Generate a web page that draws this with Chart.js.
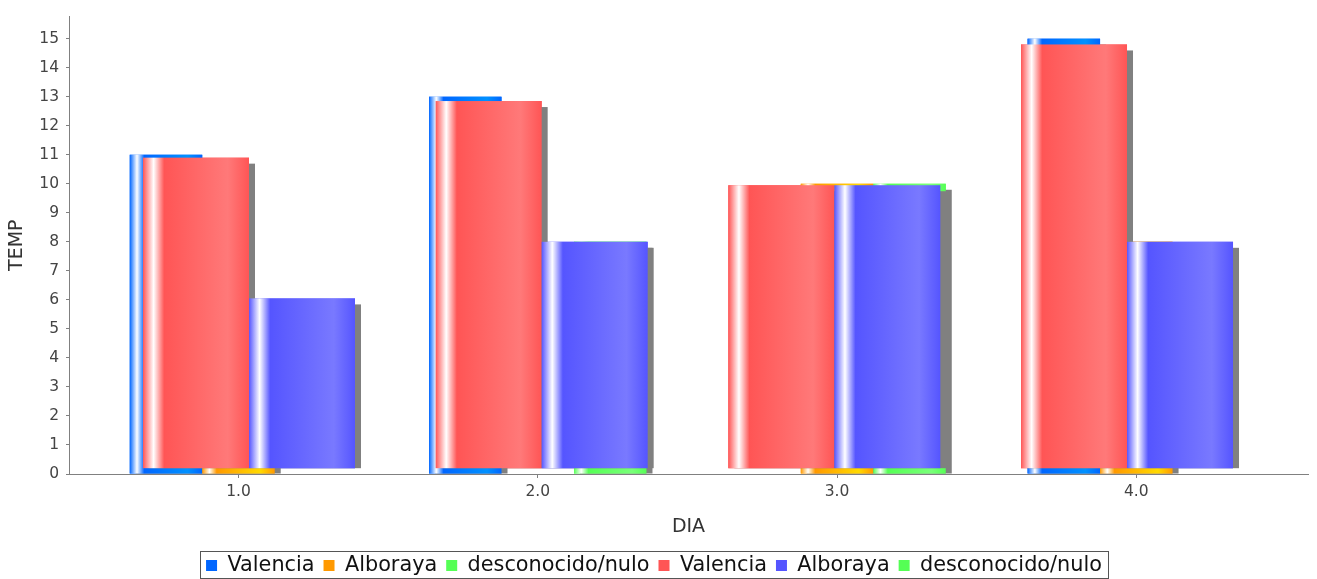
<!DOCTYPE html>
<html>
<head>
<meta charset="utf-8">
<script src="https://cdn.jsdelivr.net/npm/chart.js@4.4.1/dist/chart.umd.min.js"></script>
<style>
html, body { margin: 0; padding: 0; background: #fff; }
</style>
</head>
<body>
<canvas id="chart" width="1317" height="579"></canvas>
<script>
const dias = ['1.0', '2.0', '3.0', '4.0'];
const tempTicks = [0, 1, 2, 3, 4, 5, 6, 7, 8, 9, 10, 11, 12, 13, 14, 15];

// primer grupo de barras (detras)
const valencia1 = [11, 13, null, 15];
const alboraya1 = [6, null, 10, 8];
const desconocido1 = [null, 8, 10, null];

// segundo grupo de barras (delante, con sombra)
const valencia2 = [10.9, 12.85, 9.95, 14.8];
const alboraya2 = [6.05, 8, 9.95, 8];
const desconocido2 = [null, null, null, null];

Chart.defaults.font.family = 'DejaVu Sans';
Chart.defaults.color = '#444';

// Java Color.brighter()
function brighter(hex) {
    const n = parseInt(hex.slice(1), 16);
    const comp = [(n >> 16) & 255, (n >> 8) & 255, n & 255].map(c => {
        if (c > 0 && c < 3) c = 3;
        return Math.min(255, Math.floor(c / 0.7));
    });
    return 'rgb(' + comp.join(',') + ')';
}

function paintBar(ctx, left, top, right, bottom, color) {
    const g = ctx.createLinearGradient(left, 0, right, 0);
    const c1 = brighter(color);
    g.addColorStop(0, color);
    g.addColorStop(0.1, '#ffffff');
    g.addColorStop(0.2, color);
    g.addColorStop(0.8, c1);
    g.addColorStop(1, color);
    ctx.fillStyle = g;
    ctx.fillRect(left, top, right - left, bottom - top);
}

// redraw every bar: shadow first, then gradient, in dataset order
const barPaint = {
    id: 'barPaint',
    afterDatasetsDraw(chart) {
        const ctx = chart.ctx;
        const area = chart.chartArea;
        ctx.save();
        ctx.beginPath();
        ctx.rect(area.left, area.top, area.right - area.left, area.bottom - area.top);
        ctx.clip();
        chart.data.datasets.forEach((ds, i) => {
            const meta = chart.getDatasetMeta(i);
            if (meta.hidden) return;
            meta.data.forEach((bar, j) => {
                if (ds.data[j] == null) return;
                const p = bar.getProps(['x', 'y', 'base', 'width'], true);
                const left = p.x - p.width / 2;
                const right = p.x + p.width / 2;
                const top = Math.min(p.y, p.base);
                const bottom = Math.max(p.y, p.base);
                ctx.fillStyle = '#808080';
                ctx.fillRect(left + 6, top + 6, right - left, bottom - top - 6);
                paintBar(ctx, left, top, right, bottom, ds.backgroundColor);
            });
        });
        ctx.restore();
    }
};

// frame around the legend
const legendBox = {
    id: 'legendBox',
    afterDraw(chart) {
        const hb = chart.legend.legendHitBoxes;
        if (!hb || !hb.length) return;
        const ctx = chart.ctx;
        const first = hb[0], last = hb[hb.length - 1];
        const x0 = Math.round(first.left - 6);
        const x1 = Math.round(last.left + last.width + 6);
        const y0 = Math.round(first.top - 4);
        const y1 = Math.round(first.top + 23);
        ctx.save();
        ctx.strokeStyle = '#555';
        ctx.lineWidth = 1;
        ctx.strokeRect(x0 + 0.5, y0 + 0.5, x1 - x0, y1 - y0);
        ctx.restore();
    }
};

// category spacing like the original plot (margins on the ends)
function spread(start, range) {
    return s => {
        s._startValue = start;
        s._valueRange = range;
    };
}

// each series gets its own hidden category axis, shifted to its slot
const backStep = 0.2422, frontStep = 0.1811;
function hiddenAxis(start, range) {
    return { display: false, offset: true, afterBuildTicks: spread(start, range) };
}

function backSet(label, data, color, axis) {
    return {
        label, data,
        backgroundColor: color,
        borderWidth: 0,
        xAxisID: axis,
        grouped: false,
        categoryPercentage: 1,
        barPercentage: backStep
    };
}

function frontSet(label, data, color, axis) {
    return {
        label, data,
        backgroundColor: color,
        borderWidth: 0,
        xAxisID: axis,
        grouped: false,
        base: 0.2,
        categoryPercentage: 1,
        barPercentage: 2 * frontStep
    };
}

new Chart(document.getElementById('chart'), {
    type: 'bar',
    data: {
        labels: dias,
        datasets: [
            backSet('Valencia', valencia1, '#0066ff', 'b0'),
            backSet('Alboraya', alboraya1, '#ff9900', 'b1'),
            backSet('desconocido/nulo', desconocido1, '#55ff55', 'b2'),
            frontSet('Valencia', valencia2, '#ff5555', 'f0'),
            frontSet('Alboraya', alboraya2, '#5555ff', 'f1'),
            frontSet('desconocido/nulo', desconocido2, '#55ff55', 'f1')
        ]
    },
    options: {
        responsive: false,
        animation: false,
        layout: { padding: { left: 0, right: 9, top: 15, bottom: -7 } },
        plugins: {
            tooltip: { enabled: false },
            legend: {
                position: 'bottom',
                labels: {
                    boxWidth: 11,
                    boxHeight: 11,
                    padding: 9,
                    color: '#111',
                    font: { size: 20.8 }
                }
            }
        },
        scales: {
            x: {
                offset: true,
                afterBuildTicks: spread(-0.5663, 4.140),
                afterFit: s => { s.height = 72.2; },
                grid: { offset: false, drawOnChartArea: false, color: '#808080', tickLength: 4 },
                border: { color: '#808080' },
                ticks: { padding: 5, font: { size: 15.5 }, color: '#444', maxRotation: 0 },
                title: { display: true, text: 'DIA', color: '#333', font: { size: 19 }, padding: { bottom: 8 } }
            },
            b0: hiddenAxis(-0.5663 + backStep, 4.140),
            b1: hiddenAxis(-0.5663, 4.140),
            b2: hiddenAxis(-0.5663 - backStep, 4.140),
            f0: hiddenAxis(-0.615 + frontStep, 4.2334),
            f1: hiddenAxis(-0.615 - frontStep, 4.2334),
            y: {
                min: 0,
                max: 15.77,
                afterBuildTicks: s => { s.ticks = tempTicks.map(v => ({ value: v })); },
                afterFit: s => { s.width = 69; },
                grid: { drawOnChartArea: false, color: '#808080', tickLength: 3 },
                border: { color: '#808080' },
                ticks: { padding: 7, font: { size: 15.5 }, color: '#444' },
                title: { display: true, text: 'TEMP', color: '#333', font: { size: 19 }, padding: { top: 6 } }
            }
        }
    },
    plugins: [barPaint, legendBox]
});
</script>
</body>
</html>
